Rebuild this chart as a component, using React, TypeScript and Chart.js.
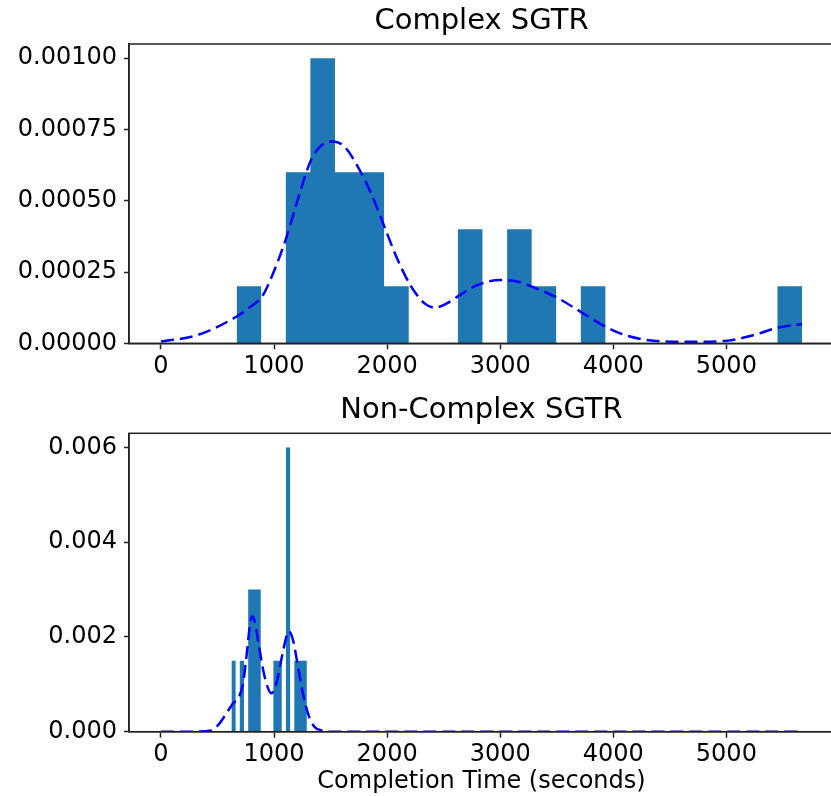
import React, { useEffect, useRef } from "react";
import { Chart, registerables } from "chart.js";

Chart.register(...registerables);

// Shared x axis (completion time in seconds)
const xTicks = [0, 1000, 2000, 3000, 4000, 5000];
const xMin = -283;
const xMax = 5952;

// Complex SGTR: histogram (density) and kernel density estimate
const complexBinEdges = [669, 886, 1104, 1321, 1539, 1756, 1973, 2191, 2408, 2626, 2843, 3061, 3278, 3495, 3713, 3930, 4147, 4365, 4582, 4800, 5017, 5234, 5452, 5669];
const complexDensity = [0.0002, 0, 0.0006, 0.001, 0.0006, 0.0006, 0.0002, 0, 0, 0.0004, 0, 0.0004, 0.0002, 0, 0.0002, 0, 0, 0, 0, 0, 0, 0, 0.0002];
const complexKdeX = [0, 323, 669, 795, 894, 992, 1102, 1209, 1327, 1425, 1524, 1622, 1740, 1858, 1976, 2094, 2213, 2331, 2421, 2528, 2646, 2803, 3000, 3157, 3315, 3512, 3709, 3906, 4102, 4378, 4654, 5008, 5244, 5441, 5669];
const complexKdeY = [0.000006, 0.000029, 0.000094, 0.000129, 0.000164, 0.000246, 0.000363, 0.000503, 0.000643, 0.000696, 0.000708, 0.00069, 0.00062, 0.000526, 0.000409, 0.000292, 0.000199, 0.00014, 0.000125, 0.00014, 0.00017, 0.000205, 0.000222, 0.000216, 0.000193, 0.000158, 0.000111, 0.000064, 0.000029, 0.000008, 0.000005, 0.000009, 0.000029, 0.000053, 0.000068];
const complexYTicks = [0, 0.00025, 0.0005, 0.00075, 0.001];
const complexYMax = 0.00105;

// Non-Complex SGTR: histogram (density) and kernel density estimate
const nonComplexBinEdges = [623, 660, 697, 734, 771, 808, 845, 882, 919, 956, 994, 1031, 1068, 1105, 1142, 1179, 1216, 1253, 1290];
const nonComplexDensity = [0.0015, 0, 0.0015, 0, 0.003, 0.003, 0.003, 0, 0, 0, 0.0015, 0.0015, 0, 0.006, 0, 0.0015, 0.0015, 0.0015];
const nonComplexKdeX = [0, 200, 432, 505, 579, 638, 691, 726, 756, 785, 806, 829, 858, 903, 946, 976, 1020, 1064, 1102, 1131, 1167, 1211, 1255, 1299, 1358, 1432, 1500, 2500, 4000, 5669];
const nonComplexKdeY = [0, 0, 0.00002, 0.00014, 0.00039, 0.0006, 0.00074, 0.00102, 0.00159, 0.00222, 0.00244, 0.00233, 0.00194, 0.00131, 0.00092, 0.00081, 0.00102, 0.00152, 0.00194, 0.00212, 0.00194, 0.00138, 0.00081, 0.00039, 0.0001, 0.00002, 0, 0, 0, 0];
const nonComplexYTicks = [0, 0.002, 0.004, 0.006];
const nonComplexYMax = 0.0063;

const FONT = "'DejaVu Sans', 'Liberation Sans', sans-serif";
const BAR_COLOR = "#1f77b4";
const KDE_COLOR = "#0000ff";
const SPINE = "#222";

const CANVAS_W = 850;

// Draws the full axes frame (top and right spines included)
const framePlugin = {
  id: "frame",
  afterDraw(chart: any) {
    const { ctx, chartArea: a } = chart;
    ctx.save();
    ctx.strokeStyle = SPINE;
    ctx.lineWidth = 1.5;
    ctx.strokeRect(a.left, a.top, a.right - a.left, a.bottom - a.top);
    ctx.restore();
  },
};

type PanelSpec = {
  title: string;
  edges: number[];
  heights: number[];
  kdeX: number[];
  kdeY: number[];
  yTicks: number[];
  yMax: number;
  decimals: number;
  titlePadTop: number;
  xAxisHeight: number;
  xTitle?: string;
};

function buildConfig(p: PanelSpec): any {
  // each bin edge carries the density of the bin that starts there; the last edge closes at zero
  const hist = p.edges.map((x, i) => ({ x, y: i < p.heights.length ? p.heights[i] : 0 }));
  const kde = p.kdeX.map((x, i) => ({ x, y: p.kdeY[i] }));
  return {
    type: "line",
    data: {
      datasets: [
        {
          data: kde,
          borderColor: KDE_COLOR,
          borderWidth: 2.5,
          borderDash: [13, 6],
          pointRadius: 0,
          fill: false,
          cubicInterpolationMode: "monotone",
        },
        {
          data: hist,
          stepped: "before",
          borderWidth: 0,
          borderColor: BAR_COLOR,
          backgroundColor: BAR_COLOR,
          pointRadius: 0,
          fill: "origin",
        },
      ],
    },
    options: {
      animation: false,
      responsive: false,
      devicePixelRatio: 1,
      events: [],
      layout: { padding: { left: 0, right: CANVAS_W - 834, top: 0, bottom: 0 } },
      plugins: {
        legend: { display: false },
        tooltip: { enabled: false },
        title: {
          display: true,
          text: p.title,
          fullSize: false,
          color: "#000",
          font: { family: FONT, size: 29, weight: "normal", lineHeight: 1.2 },
          padding: { top: p.titlePadTop, bottom: 5.2 },
        },
      },
      scales: {
        x: {
          type: "linear",
          min: xMin,
          max: xMax,
          afterBuildTicks: (s: any) => {
            s.ticks = xTicks.map((v) => ({ value: v }));
          },
          afterFit: (s: any) => {
            s.height = p.xAxisHeight;
          },
          ticks: {
            autoSkip: false,
            maxRotation: 0,
            padding: 3,
            color: "#000",
            font: { family: FONT, size: 24 },
            callback: (v: any) => String(v),
          },
          grid: {
            display: true,
            drawOnChartArea: false,
            drawTicks: true,
            tickLength: 6,
            tickWidth: 1.5,
            tickColor: SPINE,
          },
          border: { display: true, color: SPINE, width: 1.5 },
          title: p.xTitle
            ? {
                display: true,
                text: p.xTitle,
                color: "#000",
                font: { family: FONT, size: 24 },
                padding: { top: 4, bottom: 0 },
              }
            : { display: false },
        },
        y: {
          type: "linear",
          min: 0,
          max: p.yMax,
          afterBuildTicks: (s: any) => {
            s.ticks = p.yTicks.map((v) => ({ value: v }));
          },
          afterFit: (s: any) => {
            s.width = 129;
          },
          ticks: {
            padding: 7,
            color: "#000",
            font: { family: FONT, size: 24 },
            callback: (v: any) => Number(v).toFixed(p.decimals),
          },
          grid: {
            display: true,
            drawOnChartArea: false,
            drawTicks: true,
            tickLength: 5,
            tickWidth: 1.5,
            tickColor: SPINE,
          },
          border: { display: true, color: SPINE, width: 1.5 },
        },
      },
    },
    plugins: [framePlugin],
  };
}

function Panel({ spec, top, height }: { spec: PanelSpec; top: number; height: number }) {
  const ref = useRef<HTMLCanvasElement | null>(null);
  useEffect(() => {
    if (!ref.current) return;
    const chart = new Chart(ref.current, buildConfig(spec));
    return () => chart.destroy();
  }, [spec]);
  return (
    <canvas
      ref={ref}
      width={CANVAS_W}
      height={height}
      style={{ position: "absolute", left: 0, top, width: CANVAS_W, height }}
    />
  );
}

const complexSpec: PanelSpec = {
  title: "Complex SGTR",
  edges: complexBinEdges,
  heights: complexDensity,
  kdeX: complexKdeX,
  kdeY: complexKdeY,
  yTicks: complexYTicks,
  yMax: complexYMax,
  decimals: 5,
  titlePadTop: 4,
  xAxisHeight: 36.7,
};

const nonComplexSpec: PanelSpec = {
  title: "Non-Complex SGTR",
  edges: nonComplexBinEdges,
  heights: nonComplexDensity,
  kdeX: nonComplexKdeX,
  kdeY: nonComplexKdeY,
  yTicks: nonComplexYTicks,
  yMax: nonComplexYMax,
  decimals: 3,
  titlePadTop: 13.3,
  xAxisHeight: 64.3,
  xTitle: "Completion Time (seconds)",
};

export default function App() {
  return (
    <div
      style={{
        position: "fixed",
        left: 0,
        top: 0,
        width: 831,
        height: 796,
        overflow: "hidden",
        background: "#fff",
      }}
    >
      <Panel spec={complexSpec} top={0} height={380} />
      <Panel spec={nonComplexSpec} top={380} height={416} />
    </div>
  );
}
